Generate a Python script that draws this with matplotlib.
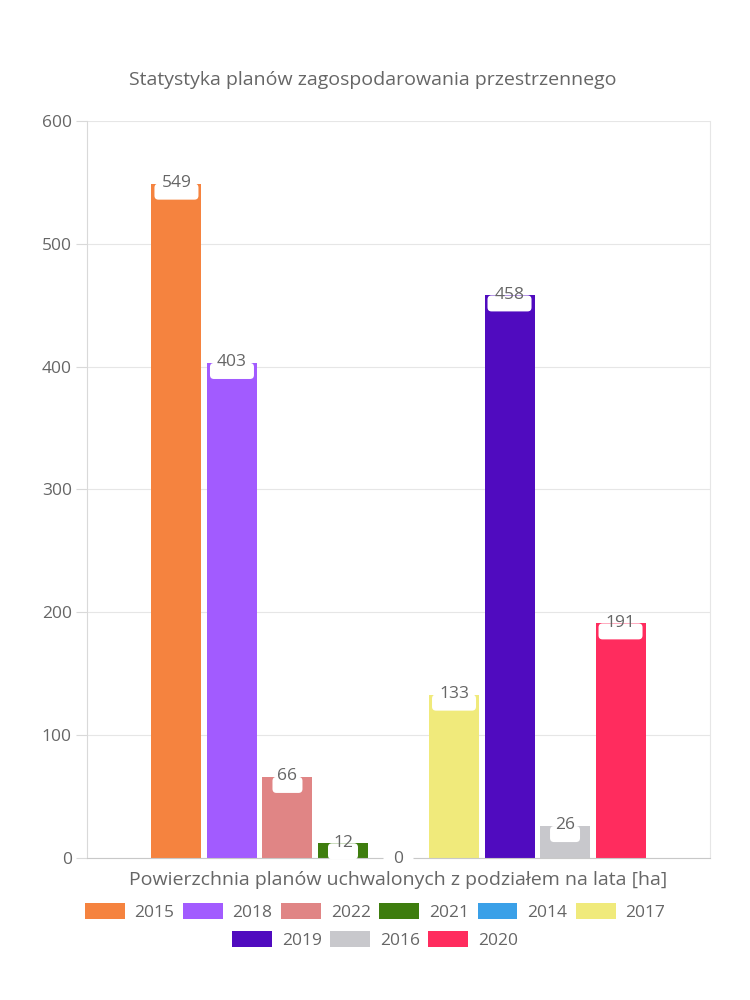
import matplotlib.pyplot as plt
from matplotlib.patches import Patch, FancyBboxPatch

# Data
years = ['2015', '2018', '2022', '2021', '2014', '2017', '2019', '2016', '2020']
values = [549, 403, 66, 12, 0, 133, 458, 26, 191]
colors = ['#F5833F', '#A25BFF', '#E08585', '#3E7D0E', '#3AA0E8',
          '#F0EA7B', '#500BBF', '#C8C8CC', '#FF2C5E']
yticks = [0, 100, 200, 300, 400, 500, 600]

plt.rcParams['font.family'] = ['Open Sans', 'DejaVu Sans']
txt = '#666666'

fig = plt.figure(figsize=(7.5, 10), dpi=100)
ax_w, ax_h = 623, 737  # axes size in px
ax = fig.add_axes([87 / 750, 1 - 858 / 1000, ax_w / 750, ax_h / 1000])
ax.set_xlim(-0.5, 0.5)
ax.set_ylim(0, 600)

slot = 0.0891
width = 0.0803
px_x = 1 / ax_w          # data units per pixel, x
px_y = 600 / ax_h        # data units per pixel, y
n = len(years)
for i, (y, v, c) in enumerate(zip(years, values, colors)):
    x = (i - (n - 1) / 2) * slot
    ax.bar(x, v, width=width, color=c, zorder=2)
    # white label box hanging from the bar top (centred on the axis for zero)
    bw = 44 * px_x if v >= 100 else 30 * px_x
    bh = 16 * px_y
    y0 = v - bh if v > 0 else -bh / 2
    box = FancyBboxPatch((x - bw / 2, max(y0, -bh / 2)), bw, bh if v > 0 else bh,
                         boxstyle='round,pad=0,rounding_size=%f' % (4 * px_x),
                         mutation_aspect=px_y / px_x, fc='white', ec='none',
                         zorder=3, clip_on=False)
    ax.add_patch(box)
    ax.annotate(str(v), (x, v), xytext=(0, 0.5 if v > 0 else -0.5),
                textcoords='offset points', ha='center', va='center',
                fontsize=12.5, color=txt, zorder=4, annotation_clip=False)

ax.set_yticks(yticks)
ax.set_xticks([])
ax.tick_params(axis='y', colors='#d9d9d9', labelcolor=txt, labelsize=12.5,
               length=8, width=0.8, pad=3)
ax.grid(axis='y', color='#e6e6e6', linewidth=0.8, zorder=0)
ax.spines['left'].set_color('#d9d9d9')
ax.spines['right'].set_color('#e6e6e6')
ax.spines['top'].set_visible(False)
ax.spines['bottom'].set_color('#c8c8c8')
ax.spines['bottom'].set_zorder(2.5)

fig.text(373 / 750, 1 - 80 / 1000, 'Statystyka planów zagospodarowania przestrzennego',
         ha='center', va='center', fontsize=14, color=txt)
fig.text(398 / 750, 1 - 880 / 1000, 'Powierzchnia planów uchwalonych z podziałem na lata [ha]',
         ha='center', va='center', fontsize=14, color=txt)

handles = [Patch(facecolor=c, edgecolor='none') for c in colors]
leg_kw = dict(frameon=False, fontsize=12.5, labelcolor=txt, handlelength=2.3,
              handleheight=1.0, handletextpad=0.55, columnspacing=0.5,
              loc='center', borderpad=0, borderaxespad=0)
fig.legend(handles[:6], years[:6], ncol=6, bbox_to_anchor=(375 / 750, 1 - 912 / 1000), **leg_kw)
fig.legend(handles[6:], years[6:], ncol=3, bbox_to_anchor=(375 / 750, 1 - 940 / 1000), **leg_kw)

fig.savefig('out.png', dpi=100)
